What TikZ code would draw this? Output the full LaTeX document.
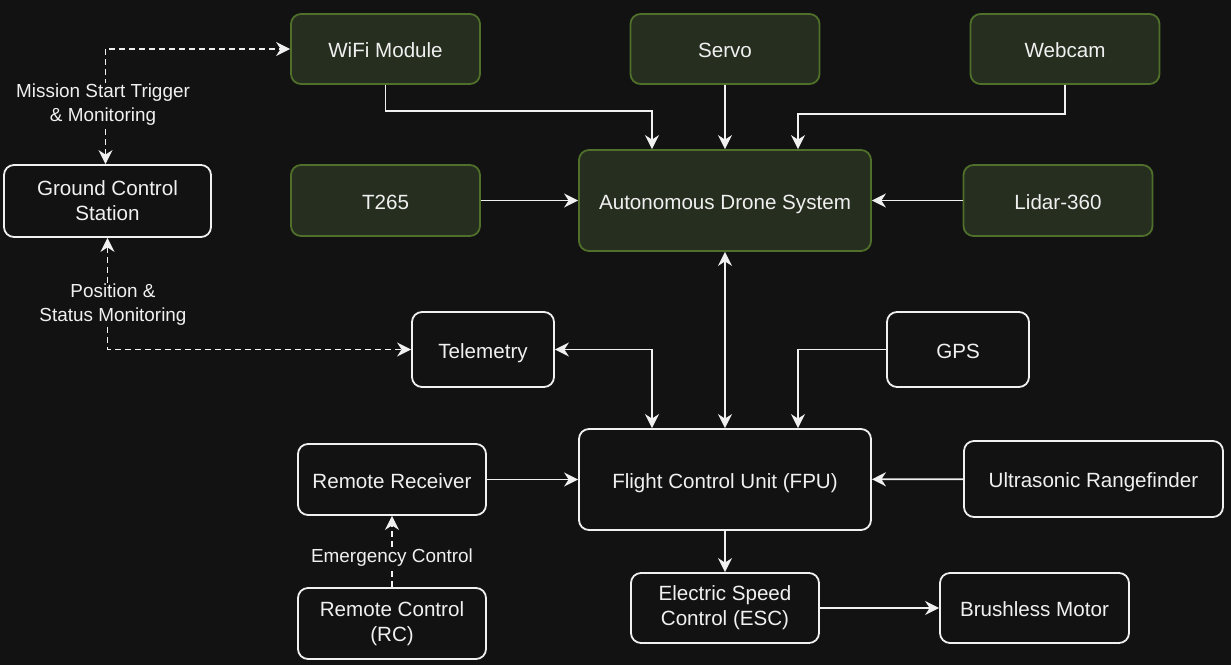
\documentclass[tikz,border=0pt]{standalone}
\usepackage{fontspec}
\setmainfont{Liberation Sans}
\usetikzlibrary{arrows.meta}
\definecolor{bgcol}{HTML}{121212}
\definecolor{fgcol}{HTML}{F0F0F0}
\definecolor{grnfill}{HTML}{252E1F}
\definecolor{grnline}{HTML}{4F6F2A}
\begin{document}
\begin{tikzpicture}[x=1pt, y=-1pt, line width=1.8pt,
  >={Stealth[length=14pt,width=14pt,inset=4.5pt]},
  box/.style={draw=fgcol, fill=bgcol, rounded corners=10pt, text=fgcol, align=center,
    inner sep=0pt, font=\fontsize{20.6}{25}\selectfont},
  gbox/.style={box, draw=grnline, fill=grnfill},
  single/.style={text height=17.5pt, text depth=0pt},
  link/.style={draw=fgcol},
  dlink/.style={draw=fgcol, dash pattern=on 6pt off 4pt},
  lbl/.style={fill=bgcol, text=fgcol, align=center, inner sep=1pt,
    font=\fontsize{18.9}{24}\selectfont}]
 \useasboundingbox[fill=bgcol] (0,0) rectangle (1231,665);
 % sensors and modules
 \node[gbox, single, minimum width=189pt, minimum height=70pt] (wifi) at (385.5,49) {WiFi Module};
 \node[gbox, single, minimum width=189pt, minimum height=70pt] (servo) at (725,49) {Servo};
 \node[gbox, single, minimum width=189pt, minimum height=70pt] (webcam) at (1065,49) {Webcam};
 \node[gbox, single, minimum width=189pt, minimum height=71pt] (t265) at (385.5,200.5) {T265};
 \node[gbox, single, minimum width=292pt, minimum height=101pt] (ads) at (725,200.5) {Autonomous Drone System};
 \node[gbox, single, minimum width=189pt, minimum height=71pt] (lidar) at (1058,200.5) {Lidar-360};
 \node[box, minimum width=207pt, minimum height=72pt] (gcs) at (107.5,201) {Ground Control\\Station};
 \node[box, single, minimum width=142pt, minimum height=75pt] (tele) at (483,349.5) {Telemetry};
 \node[box, single, minimum width=142pt, minimum height=75pt] (gps) at (958,349.5) {GPS};
 \node[box, single, minimum width=292pt, minimum height=101pt] (fcu) at (725,479.5) {Flight Control Unit (FPU)};
 \node[box, single, minimum width=188pt, minimum height=71pt] (rr) at (392,479.5) {Remote Receiver};
 \node[box, single, minimum width=259pt, minimum height=76pt] (us) at (1093.5,479) {Ultrasonic Rangefinder};
 \node[box, minimum width=188pt, minimum height=71pt] (rc) at (392,623.5) {Remote Control\\(RC)};
 \node[box, minimum width=188pt, minimum height=70pt] (esc) at (725,608) {Electric Speed\\Control (ESC)};
 \node[box, single, minimum width=189pt, minimum height=70pt] (motor) at (1034.5,608) {Brushless Motor};
 % connections
 \draw[link,->] (wifi.south) -- ++(0,26) -| ([xshift=-73pt]ads.north);
 \draw[link,->] (servo) -- (ads);
 \draw[link,->] (webcam.south) -- ++(0,29) -| ([xshift=73pt]ads.north);
 \draw[link,->] (t265) -- (ads);
 \draw[link,->] (lidar) -- (ads);
 \draw[link,<->] (ads) -- (fcu);
 \draw[link,<->] (tele.east) -| ([xshift=-73pt]fcu.north);
 \draw[link,->] (gps.west) -| ([xshift=73pt]fcu.north);
 \draw[link,->] (rr) -- (fcu);
 \draw[link,->] (us) -- (fcu);
 \draw[link,->] (fcu) -- (esc);
 \draw[link,->] (esc) -- (motor);
 \draw[dlink,->] (rc) -- (rr);
 \draw[dlink,<->] ([xshift=-2pt]gcs.north) |- (wifi.west);
 \draw[dlink,<->] (gcs.south) |- (tele.west);
 % labels
 \node[lbl] (lmission) at (103,105) {Mission Start Trigger\\\& Monitoring};
 \node[lbl] (lposition) at (113,305) {Position \&\\Status Monitoring};
 \node[lbl] (lemergency) at (392,558) {Emergency Control};
\end{tikzpicture}
\end{document}
